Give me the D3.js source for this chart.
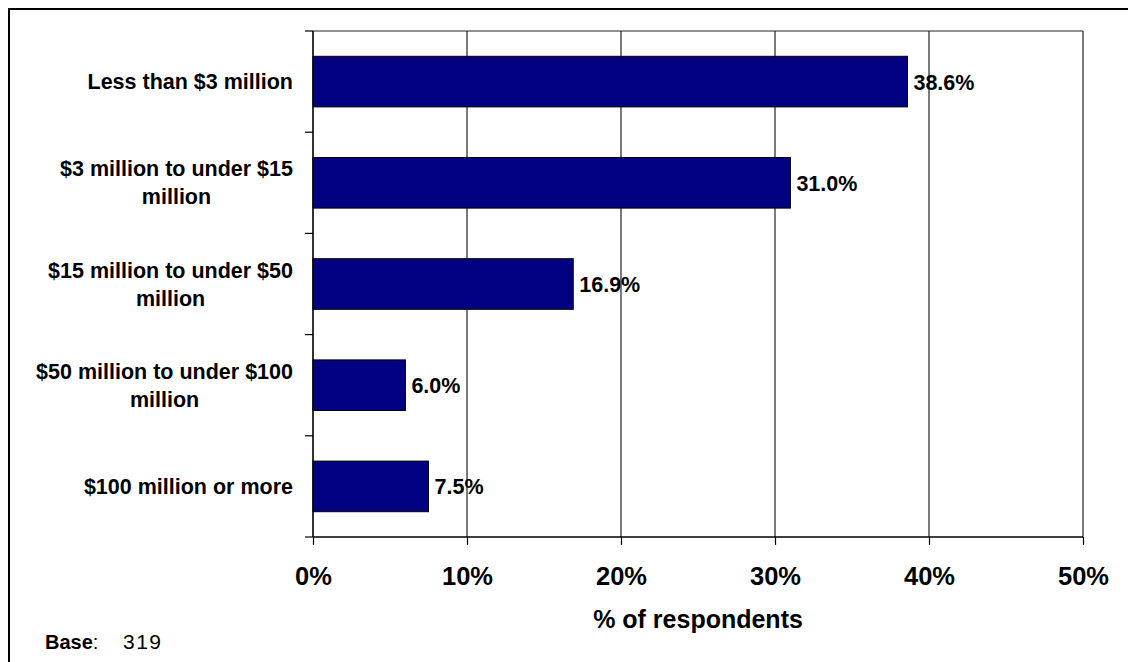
<!DOCTYPE html>
<html>
<head>
<meta charset="utf-8">
<script src="https://cdn.jsdelivr.net/npm/d3@7"></script>
<style>
  html, body { margin: 0; padding: 0; background: #fff; }
  svg { display: block; }
  text { font-family: "Liberation Sans", Arial, sans-serif; fill: #000; }
</style>
</head>
<body>
<svg id="chart" width="1128" height="662"></svg>
<script>
// Revenue bands (wrapped label lines) and share of respondents
const categories = [
  ["Less than $3 million"],
  ["$3 million to under $15", "million"],
  ["$15 million to under $50", "million"],
  ["$50 million to under $100", "million"],
  ["$100 million or more"]
];
const values = [38.6, 31.0, 16.9, 6.0, 7.5];
const xTicks = [0, 10, 20, 30, 40, 50];
const xTickLabels = ["0%", "10%", "20%", "30%", "40%", "50%"];
const axisTitle = "% of respondents";
const baseLabel = "Base";
const baseValue = "319";

const svg = d3.select("#chart");
const plot = { left: 313, right: 1083, top: 31, bottom: 537 };

// Outer frame (extends past the right and bottom edges)
svg.append("rect")
  .attr("x", 9).attr("y", 9)
  .attr("width", 1200).attr("height", 700)
  .attr("fill", "none").attr("stroke", "#000").attr("stroke-width", 2);

const x = d3.scaleLinear().domain([0, 50]).range([plot.left, plot.right]);
const y = d3.scaleBand()
  .domain(d3.range(categories.length))
  .range([plot.top, plot.bottom])
  .paddingInner(0.5)
  .paddingOuter(0.25);

// Vertical gridlines
svg.append("g")
  .selectAll("line")
  .data(xTicks.slice(1))
  .join("line")
  .attr("x1", d => x(d)).attr("x2", d => x(d))
  .attr("y1", plot.top).attr("y2", plot.bottom)
  .attr("stroke", "#222").attr("stroke-width", 1.2);

// Top border of plot area
svg.append("line")
  .attr("x1", plot.left).attr("x2", plot.right)
  .attr("y1", plot.top).attr("y2", plot.top)
  .attr("stroke", "#222").attr("stroke-width", 1.2);

// Bars
svg.append("g")
  .selectAll("rect")
  .data(values)
  .join("rect")
  .attr("x", x(0))
  .attr("y", (d, i) => y(i))
  .attr("width", d => x(d) - x(0))
  .attr("height", y.bandwidth())
  .attr("fill", "#000080")
  .attr("stroke", "#000")
  .attr("stroke-width", 1);

// Value labels
svg.append("g")
  .selectAll("text")
  .data(values)
  .join("text")
  .attr("x", d => x(d) + 6)
  .attr("y", (d, i) => y(i) + y.bandwidth() / 2 + 8)
  .attr("font-size", 21.5)
  .attr("font-weight", "bold")
  .text(d => d.toFixed(1) + "%");

// X axis
const xAxis = d3.axisBottom(x)
  .tickValues(xTicks)
  .tickFormat((d, i) => xTickLabels[i])
  .tickSize(8)
  .tickPadding(32);
const gx = svg.append("g")
  .attr("transform", `translate(0,${plot.bottom})`)
  .call(xAxis);
gx.select(".domain").attr("stroke", "#000").attr("stroke-width", 1.6)
  .attr("d", `M${plot.left},0H${plot.right}`);
gx.selectAll(".tick line").attr("stroke", "#000").attr("stroke-width", 1.2);
gx.selectAll(".tick text")
  .attr("font-family", "Liberation Sans, Arial, sans-serif")
  .attr("font-size", 25.5)
  .attr("font-weight", "bold")
  .attr("fill", "#000")
  .attr("dy", 0)
  .attr("y", 48);

// Y axis (ticks at band boundaries, labels drawn separately)
const yBoundaries = d3.range(categories.length + 1).map(i => plot.top + i * y.step());
svg.append("line")
  .attr("x1", plot.left).attr("x2", plot.left)
  .attr("y1", plot.top).attr("y2", plot.bottom)
  .attr("stroke", "#000").attr("stroke-width", 1.6);
svg.append("g")
  .selectAll("line")
  .data(yBoundaries)
  .join("line")
  .attr("x1", plot.left - 8).attr("x2", plot.left)
  .attr("y1", d => d).attr("y2", d => d)
  .attr("stroke", "#000").attr("stroke-width", 1.2);

// Category labels: block right-aligned to the axis, lines centred within block
const labelRight = 293;
const lineHeight = 28;
categories.forEach((lines, i) => {
  const g = svg.append("g");
  const texts = lines.map(l => g.append("text")
    .attr("font-size", 21.5)
    .attr("font-weight", "bold")
    .attr("text-anchor", "middle")
    .text(l));
  const maxW = d3.max(texts, t => t.node().getComputedTextLength());
  const cx = labelRight - maxW / 2;
  const cy = y(i) + y.bandwidth() / 2;
  const firstBase = cy + 7.5 - (lines.length - 1) * lineHeight / 2;
  texts.forEach((t, k) => t.attr("x", cx).attr("y", firstBase + k * lineHeight));
});

// Axis title
svg.append("text")
  .attr("x", (plot.left + plot.right) / 2)
  .attr("y", 628)
  .attr("text-anchor", "middle")
  .attr("font-size", 25)
  .attr("font-weight", "bold")
  .text(axisTitle);

// Base note
const base = svg.append("text")
  .attr("x", 45).attr("y", 649)
  .attr("font-size", 20);
base.append("tspan").attr("font-weight", "bold").text(baseLabel);
base.append("tspan").text(":");
base.append("tspan").attr("x", 123).attr("font-size", 21).attr("letter-spacing", 1.5).text(baseValue);
</script>
</body>
</html>
